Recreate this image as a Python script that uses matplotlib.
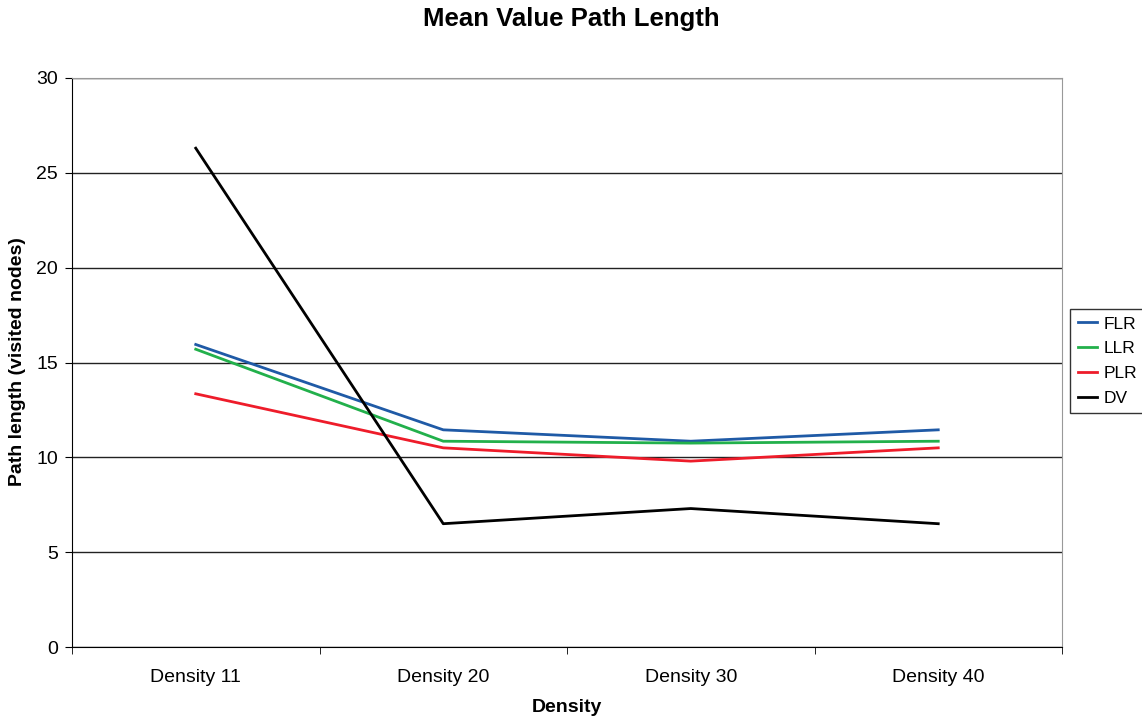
import matplotlib
matplotlib.use("Agg")
import matplotlib.pyplot as plt

plt.rcParams['font.family'] = ['Liberation Sans', 'DejaVu Sans']

categories = ["Density 11", "Density 20", "Density 30", "Density 40"]
flr = [15.95, 11.45, 10.85, 11.45]
llr = [15.7, 10.85, 10.75, 10.85]
plr = [13.35, 10.5, 9.8, 10.5]
dv = [26.3, 6.5, 7.3, 6.5]

series = [("FLR", flr, "#1f5aa6"), ("LLR", llr, "#22b04b"),
          ("PLR", plr, "#ee1c2a"), ("DV", dv, "#000000")]

fig = plt.figure(figsize=(11.42, 7.2), dpi=100)
ax = fig.add_axes([72/1142, 1 - 647/720, (1062-72)/1142, (647-78)/720])

x = list(range(len(categories)))
for name, vals, col in series:
    ax.plot(x, vals, color=col, lw=2, label=name, zorder=3)

ax.set_xlim(-0.5, len(categories) - 0.5)
ax.set_ylim(0, 30)
ax.set_yticks([0, 5, 10, 15, 20, 25, 30])
ax.set_xticks(x)
ax.set_xticklabels(categories, fontsize=14)
ax.set_xticks([i - 0.5 for i in range(len(categories) + 1)], minor=True)
ax.tick_params(axis='x', which='major', length=0, pad=16)
ax.tick_params(axis='x', which='minor', length=5, direction='out', color='black')
ax.tick_params(axis='y', length=5, direction='out', labelsize=14, pad=5)

ax.yaxis.grid(True, color='#222222', lw=1)
ax.set_axisbelow(True)
for s in ['top', 'right']:
    ax.spines[s].set_color('#999999')
for s in ['left', 'bottom']:
    ax.spines[s].set_color('black')

fig.text(567/1142, 1 - 707/720, "Density", ha='center', va='center',
         fontsize=14, fontweight='bold')
fig.text(18/1142, 1 - 362/720, "Path length (visited nodes)", ha='center', va='center',
         rotation=90, fontsize=14, fontweight='bold')
fig.text(0.5, 1 - 19/720, "Mean Value Path Length", ha='center', va='center',
         fontsize=18.5, fontweight='bold')

leg = fig.legend(loc='center left', bbox_to_anchor=(1070/1142, 1 - 361/720),
                 frameon=True, fancybox=False, fontsize=12.5, handlelength=1.1,
                 handletextpad=0.4, borderpad=0.45, labelspacing=0.55, borderaxespad=0)
leg.get_frame().set_edgecolor('black')
leg.get_frame().set_linewidth(1)

fig.savefig("out.png", dpi=100)
